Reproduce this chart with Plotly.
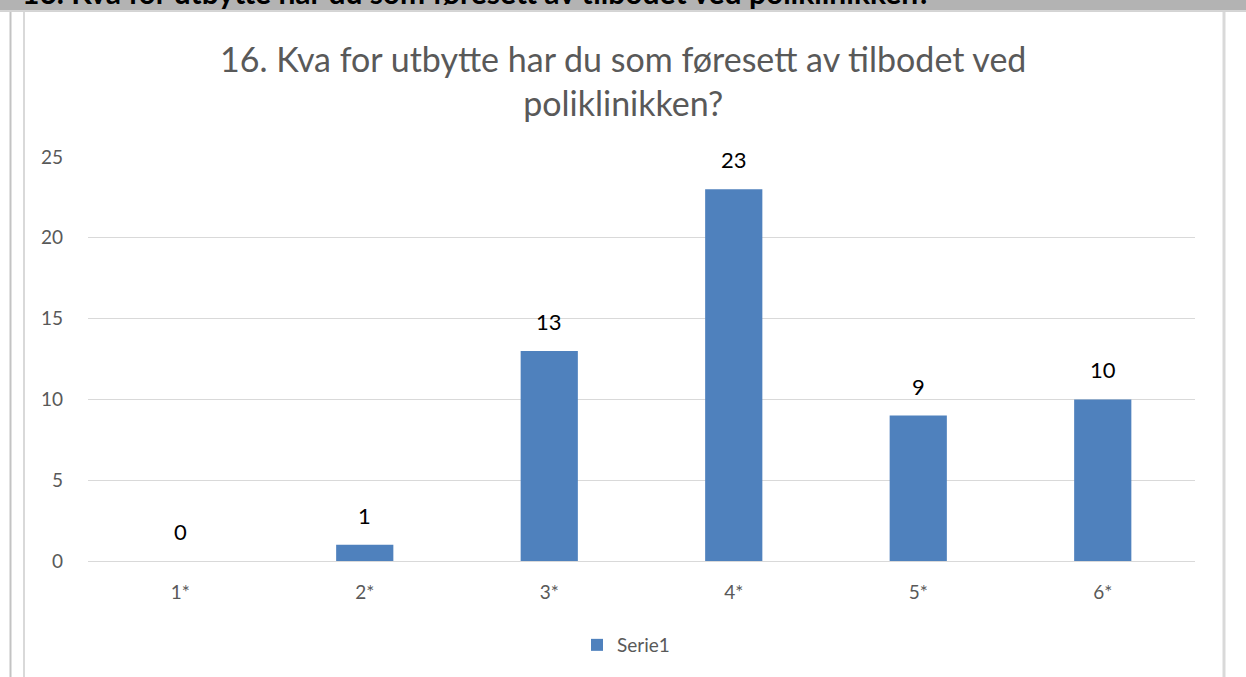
import plotly.graph_objects as go

categories = ["1*", "2*", "3*", "4*", "5*", "6*"]
values = [0, 1, 13, 23, 9, 10]
series_name = "Serie1"
y_ticks = [0, 5, 10, 15, 20, 25]
chart_title = "16. Kva for utbytte har du som føresett av tilbodet ved<br>poliklinikken?"
header_text = "16. Kva for utbytte har du som føresett av tilbodet ved poliklinikken?"

W, H = 1246, 677
L, R, T, B = 88, 1195, 157, 561  # plot area in pixels
FONT = "Lato, Open Sans, sans-serif"


def px(x):
    return (x - L) / (R - L)


def py(y):
    return (B - y) / (B - T)


fig = go.Figure()
fig.add_trace(go.Bar(
    x=categories, y=values, name=series_name,
    marker=dict(color="#4f81bd", line=dict(width=0)),
    width=0.31, showlegend=True,
))

shapes = [
    dict(type="rect", xref="paper", yref="paper", x0=px(-5), x1=px(W + 5), y0=py(-5), y1=py(10.5),
         fillcolor="#b3b3b3", line=dict(width=0), layer="below"),
    dict(type="line", xref="paper", yref="paper", x0=px(-5), x1=px(W + 5), y0=py(11.3), y1=py(11.3),
         line=dict(color="#d4d4d4", width=1.5)),
    dict(type="line", xref="paper", yref="paper", x0=px(10.5), x1=px(10.5), y0=py(12), y1=py(H + 5),
         line=dict(color="#c3c3c3", width=2)),
    dict(type="line", xref="paper", yref="paper", x0=px(24), x1=px(24), y0=py(12), y1=py(H + 5),
         line=dict(color="#d9d9d9", width=2)),
    dict(type="line", xref="paper", yref="paper", x0=px(1224), x1=px(1224), y0=py(12), y1=py(H + 5),
         line=dict(color="#d9d9d9", width=3)),
]

annotations = [
    dict(text="<b>" + header_text + "</b>",
         xref="paper", yref="paper", x=px(20), y=py(-8), xanchor="left", yanchor="middle",
         showarrow=False, font=dict(family=FONT, size=30, color="#000000")),
    dict(text=chart_title, xref="paper", yref="paper", x=px(623), y=py(80),
         xanchor="center", yanchor="middle", showarrow=False,
         font=dict(family=FONT, size=34, color="#595959")),
]
for c, v in zip(categories, values):
    annotations.append(dict(
        x=c, y=v, xref="x", yref="y", text=str(v), showarrow=False,
        xanchor="center", yanchor="bottom", yshift=14,
        font=dict(family=FONT, size=22, color="#000000"),
    ))

fig.update_layout(
    width=W, height=H,
    margin=dict(l=L, r=W - R, t=T, b=H - B, pad=0),
    paper_bgcolor="#ffffff", plot_bgcolor="#ffffff",
    font=dict(family=FONT, size=19, color="#595959"),
    xaxis=dict(showgrid=False, showline=False, ticks="", ticklabelstandoff=18,
               tickfont=dict(size=19, color="#595959")),
    yaxis=dict(range=[0, 25], tickvals=y_ticks, showgrid=True, gridcolor="#d9d9d9", gridwidth=1,
               zeroline=True, zerolinecolor="#d9d9d9", zerolinewidth=1, showline=False,
               ticks="", ticklabelstandoff=24, tickfont=dict(size=19, color="#595959")),
    legend=dict(orientation="h", x=px(626), xanchor="center", y=py(645), yanchor="middle",
                font=dict(size=19, color="#595959"), itemwidth=30),
    shapes=shapes, annotations=annotations,
    bargap=0.69,
)

fig.write_html("out.html", config={"displayModeBar": False},
               post_script="document.body.style.margin='0';")
